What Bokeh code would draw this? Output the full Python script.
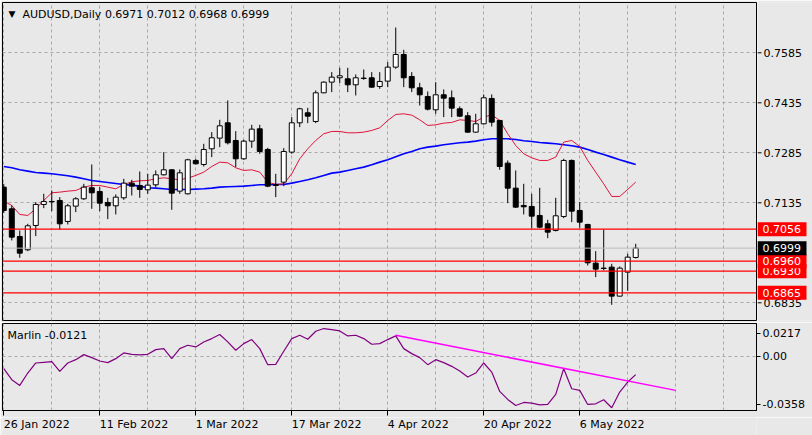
from bokeh.plotting import figure
from bokeh.layouts import column, row
from bokeh.models import ColumnDataSource, FixedTicker, Label, Grid, Range1d, Span
from bokeh.core.properties import value
from bokeh.embed import file_html
from bokeh.resources import INLINE

# ---------------- data ----------------
opens = [0.7182, 0.7117, 0.7034, 0.6994, 0.7067, 0.7130, 0.7138, 0.7142, 0.7079, 0.7125,
         0.7147, 0.7180, 0.7169, 0.7136, 0.7126, 0.7150, 0.7194, 0.7187, 0.7174, 0.7189,
         0.7219, 0.7234, 0.7170, 0.7162, 0.7262, 0.7250, 0.7297, 0.7329, 0.7375, 0.7322,
         0.7267, 0.7320, 0.7357, 0.7295, 0.7190, 0.7197, 0.7287, 0.7375, 0.7405, 0.7379,
         0.7465, 0.7497, 0.7510, 0.7507, 0.7489, 0.7508, 0.7510, 0.7484, 0.7500, 0.7542,
         0.7580, 0.7514, 0.7480, 0.7454, 0.7414, 0.7459, 0.7450, 0.7417, 0.7396, 0.7347,
         0.7372, 0.7448, 0.7382, 0.7254, 0.7179, 0.7127, 0.7124, 0.7097, 0.7072, 0.7052,
         0.7094, 0.7262, 0.7112, 0.7070, 0.6954, 0.6939, 0.6942, 0.6855, 0.6927, 0.6971]
highs = [0.7192, 0.7127, 0.7052, 0.7072, 0.7137, 0.7162, 0.7172, 0.7152, 0.7132, 0.7152,
         0.7192, 0.7250, 0.7182, 0.7150, 0.7160, 0.7207, 0.7204, 0.7229, 0.7222, 0.7232,
         0.7287, 0.7236, 0.7235, 0.7267, 0.7267, 0.7312, 0.7347, 0.7384, 0.7442, 0.7350,
         0.7324, 0.7369, 0.7369, 0.7300, 0.7222, 0.7299, 0.7392, 0.7420, 0.7420, 0.7472,
         0.7499, 0.7527, 0.7540, 0.7540, 0.7520, 0.7535, 0.7527, 0.7527, 0.7557, 0.7661,
         0.7594, 0.7527, 0.7495, 0.7469, 0.7497, 0.7475, 0.7472, 0.7424, 0.7407, 0.7402,
         0.7460, 0.7460, 0.7384, 0.7262, 0.7232, 0.7192, 0.7162, 0.7180, 0.7084, 0.7150,
         0.7267, 0.7265, 0.7137, 0.7072, 0.6990, 0.7055, 0.6952, 0.6944, 0.6982, 0.7012]
lows = [0.7104, 0.7022, 0.6970, 0.6990, 0.7035, 0.7119, 0.7110, 0.7054, 0.7070, 0.7107,
        0.7144, 0.7117, 0.7110, 0.7086, 0.7100, 0.7144, 0.7157, 0.7150, 0.7162, 0.7182,
        0.7217, 0.7114, 0.7162, 0.7160, 0.7250, 0.7244, 0.7272, 0.7302, 0.7310, 0.7242,
        0.7264, 0.7300, 0.7282, 0.7182, 0.7152, 0.7185, 0.7282, 0.7362, 0.7374, 0.7374,
        0.7464, 0.7467, 0.7494, 0.7467, 0.7457, 0.7504, 0.7480, 0.7477, 0.7482, 0.7537,
        0.7482, 0.7467, 0.7427, 0.7412, 0.7402, 0.7392, 0.7392, 0.7392, 0.7345, 0.7345,
        0.7370, 0.7364, 0.7234, 0.7134, 0.7120, 0.7100, 0.7059, 0.7059, 0.7029, 0.7049,
        0.7089, 0.7077, 0.7060, 0.6947, 0.6912, 0.6932, 0.6829, 0.6854, 0.6871, 0.6968]
closes = [0.7112, 0.7032, 0.6984, 0.7066, 0.7130, 0.7139, 0.7139, 0.7072, 0.7126, 0.7147,
          0.7182, 0.7165, 0.7134, 0.7126, 0.7152, 0.7194, 0.7185, 0.7175, 0.7188, 0.7219,
          0.7234, 0.7164, 0.7225, 0.7264, 0.7252, 0.7295, 0.7330, 0.7366, 0.7315, 0.7267,
          0.7320, 0.7356, 0.7289, 0.7185, 0.7187, 0.7289, 0.7375, 0.7417, 0.7395, 0.7465,
          0.7497, 0.7512, 0.7516, 0.7489, 0.7510, 0.7509, 0.7482, 0.7499, 0.7542, 0.7580,
          0.7510, 0.7480, 0.7459, 0.7416, 0.7459, 0.7449, 0.7419, 0.7395, 0.7347, 0.7372,
          0.7450, 0.7377, 0.7244, 0.7179, 0.7122, 0.7123, 0.7095, 0.7062, 0.7047, 0.7096,
          0.7262, 0.7110, 0.7077, 0.6955, 0.6936, 0.6938, 0.6855, 0.6939, 0.6972, 0.6999]
ma_red = [0.7140, 0.7127, 0.7100, 0.7097, 0.7117, 0.7142, 0.7165, 0.7167, 0.7170, 0.7172,
          0.7182, 0.7187, 0.7187, 0.7182, 0.7177, 0.7190, 0.7198, 0.7201, 0.7202, 0.7207,
          0.7210, 0.7207, 0.7204, 0.7209, 0.7217, 0.7227, 0.7244, 0.7257, 0.7255, 0.7240,
          0.7232, 0.7234, 0.7227, 0.7197, 0.7190, 0.7192, 0.7222, 0.7267, 0.7297, 0.7322,
          0.7342, 0.7349, 0.7349, 0.7345, 0.7345, 0.7347, 0.7352, 0.7360, 0.7382, 0.7400,
          0.7402, 0.7398, 0.7384, 0.7367, 0.7369, 0.7374, 0.7376, 0.7384, 0.7382, 0.7379,
          0.7392, 0.7399, 0.7382, 0.7342, 0.7307, 0.7282, 0.7270, 0.7262, 0.7262, 0.7272,
          0.7317, 0.7322, 0.7304, 0.7262, 0.7227, 0.7192, 0.7154, 0.7154, 0.7175, 0.7197]
ma_blue = [0.7244, 0.7240, 0.7234, 0.7230, 0.7226, 0.7224, 0.7222, 0.7219, 0.7216, 0.7212,
           0.7207, 0.7202, 0.7199, 0.7196, 0.7193, 0.7190, 0.7188, 0.7185, 0.7180, 0.7179,
           0.7177, 0.7175, 0.7175, 0.7175, 0.7176, 0.7177, 0.7179, 0.7182, 0.7183, 0.7184,
           0.7185, 0.7187, 0.7189, 0.7189, 0.7190, 0.7190, 0.7194, 0.7199, 0.7204, 0.7210,
           0.7217, 0.7224, 0.7227, 0.7232, 0.7237, 0.7242, 0.7249, 0.7257, 0.7264, 0.7273,
           0.7282, 0.7289, 0.7297, 0.7302, 0.7305, 0.7309, 0.7312, 0.7315, 0.7317, 0.7320,
           0.7324, 0.7327, 0.7327, 0.7327, 0.7325, 0.7321, 0.7319, 0.7316, 0.7314, 0.7312,
           0.7309, 0.7306, 0.7302, 0.7295, 0.7287, 0.7280, 0.7272, 0.7264, 0.7257, 0.7250]
marlin = [-0.00816, -0.01545, -0.01921, -0.01103, -0.00440, -0.00396, -0.00352, -0.00993, -0.00440, -0.00219,
          0.00113, -0.00086, -0.00307, -0.00418, -0.00153, 0.00223, 0.00135, 0.00090, 0.00135, 0.00444,
          0.00510, -0.00153, 0.00510, 0.00731, 0.00621, 0.00952, 0.01173, 0.01439, 0.00952, 0.00400,
          0.00842, 0.01107, 0.00510, -0.00551, -0.00528, 0.00334, 0.01173, 0.01394, 0.01129, 0.01660,
          0.01836, 0.01770, 0.01682, 0.01350, 0.01394, 0.01173, 0.00798, 0.00842, 0.01107, 0.01350,
          0.00510, 0.00179, -0.00086, -0.00551, -0.00219, -0.00418, -0.00661, -0.00970, -0.01368, -0.01103,
          -0.00440, -0.01037, -0.02319, -0.02849, -0.03247, -0.03048, -0.03092, -0.03203, -0.03180, -0.02517,
          -0.00816, -0.02142, -0.02252, -0.03180, -0.03136, -0.02871, -0.03401, -0.02363, -0.01700, -0.0121]
trend_x = [49, 84]
trend_y = [0.0139, -0.0225]
red_levels = [0.6930, 0.6960, 0.7056, 0.6865]
bid_level = 0.6999
price_ticks = [0.7585, 0.7435, 0.7285, 0.7135, 0.6835]
date_ticks = [0, 12, 24, 36, 48, 60, 72]
date_labels = ["26 Jan 2022", "11 Feb 2022", "1 Mar 2022", "17 Mar 2022",
               "4 Apr 2022", "20 Apr 2022", "6 May 2022"]
grid_ticks = list(range(0, 96, 6))
marlin_ticks = [0.0151, 0.0, -0.0318]
marlin_tick_labels = ["0.0217", "0.00", "-0.0358"]
title_text = "AUDUSD,Daily  0.6971 0.7012 0.6968 0.6999"
ind_text = "Marlin -0.0121"

# ---------------- styling / layout constants ----------------
BG = "#e8e8e8"
FONT = "DejaVu Sans"
FS = "11px"
GRID_COLOR = "#a8a8a8"
RED = "#ff0000"

x0, x1 = -0.16, 94.1
xr = Range1d(x0, x1)
yr_main = Range1d(0.67819, 0.77359)
yr_ind = Range1d(-0.0358, 0.0217)

W = 812
LEFT = 2                 # left border
FRAME_W = 754            # chart frame width
MAIN_W = LEFT + FRAME_W + 1
AXW = W - MAIN_W         # right-hand price scale width
MAIN_H = 322
MAIN_FRAME_H = MAIN_H - 4
IND_H = 95
DATE_H = 435 - MAIN_H - IND_H


def base_style(p):
    p.background_fill_color = BG
    p.border_fill_color = BG
    p.grid.visible = False


def add_grids(p, yticks):
    p.add_layout(Grid(dimension=0, ticker=FixedTicker(ticks=grid_ticks),
                      grid_line_color=GRID_COLOR, grid_line_dash="3 3", grid_line_width=1))
    p.add_layout(Grid(dimension=1, ticker=FixedTicker(ticks=yticks),
                      grid_line_color=GRID_COLOR, grid_line_dash="3 3", grid_line_width=1))


# ---------------- main price panel ----------------
p = figure(width=MAIN_W, height=MAIN_H, x_range=xr, y_range=yr_main,
           output_backend="svg", toolbar_location=None,
           x_axis_location=None, y_axis_location=None,
           min_border_left=LEFT, min_border_right=1, min_border_top=2, min_border_bottom=2)
base_style(p)
p.outline_line_color = "black"
p.outline_line_width = 1
add_grids(p, price_ticks)

idx = list(range(len(opens)))
src = ColumnDataSource(dict(
    x=idx,
    high=highs,
    low=lows,
    top=[max(o, c) for o, c in zip(opens, closes)],
    bottom=[min(o, c) for o, c in zip(opens, closes)],
    fill=["white" if c >= o else "black" for o, c in zip(opens, closes)],
))
p.line(idx, ma_blue, line_color="#0000ff", line_width=1.6)
p.line(idx, ma_red, line_color="#dc143c", line_width=1)
p.segment(x0="x", y0="low", x1="x", y1="high", source=src, line_color="black", line_width=1)
p.vbar(x="x", width=0.62, top="top", bottom="bottom", fill_color="fill",
       line_color="black", line_width=1, source=src)
p.add_layout(Span(location=bid_level, dimension="width", line_color="#bcbcbc", line_width=1))
for lv in red_levels:
    p.add_layout(Span(location=lv, dimension="width", line_color=RED, line_width=1.2))

p.add_layout(Label(x=x0, y=yr_main.end, x_offset=6, y_offset=-6, text="\u25BC",
                   text_font=FONT, text_font_size="9px", text_color="black",
                   text_baseline="top", text_align="left"))
p.add_layout(Label(x=x0, y=yr_main.end, x_offset=20, y_offset=-5, text=title_text,
                   text_font=FONT, text_font_size=FS, text_color="black",
                   text_baseline="top", text_align="left"))

# ---------------- price scale (right of main panel) ----------------
pa = figure(width=AXW, height=MAIN_H, x_range=Range1d(0, AXW), y_range=yr_main,
            output_backend="svg", toolbar_location=None,
            x_axis_location=None, y_axis_location=None,
            min_border_left=0, min_border_right=0, min_border_top=2, min_border_bottom=2)
base_style(pa)
pa.outline_line_color = None
n = len(price_ticks)
pa.segment(x0=[0] * n, x1=[4] * n, y0=price_ticks, y1=price_ticks, line_color="black", line_width=1)
pa.text(x=[6] * n, y=price_ticks, text=["%.4f" % t for t in price_ticks],
        text_font=value(FONT), text_font_size=value(FS), text_color="black",
        text_baseline="middle", text_align="left")

dpp = (yr_main.end - yr_main.start) / MAIN_FRAME_H   # price units per pixel
box_half = 7 * dpp
box_levels = [0.6930, 0.6960, 0.7056, 0.6865, bid_level]
box_colors = [RED, RED, RED, RED, "black"]
for lv, col in zip(box_levels, box_colors):
    pa.quad(left=[0], right=[49], bottom=[lv - box_half], top=[lv + box_half],
            fill_color=col, line_color=None)
    pa.text(x=[5], y=[lv], text=["%.4f" % lv], text_font=value(FONT), text_font_size=value(FS),
            text_color="white", text_baseline="middle", text_align="left")

# ---------------- indicator panel ----------------
p2 = figure(width=W, height=IND_H, x_range=xr, y_range=yr_ind,
            output_backend="svg", toolbar_location=None,
            x_axis_location="below", y_axis_location="right",
            min_border_left=LEFT, min_border_right=AXW + 1, min_border_top=1, min_border_bottom=7)
base_style(p2)
p2.outline_line_color = "black"
add_grids(p2, [0.0])
ya = p2.yaxis[0]
ya.ticker = FixedTicker(ticks=marlin_ticks)
ya.major_label_overrides = {t: s for t, s in zip(marlin_ticks, marlin_tick_labels)}
ya.axis_line_color = "black"
ya.major_tick_line_color = "black"
ya.major_tick_out = 4
ya.major_tick_in = 0
ya.minor_tick_line_color = None
ya.major_label_standoff = 2
ya.major_label_text_font = FONT
ya.major_label_text_font_size = FS
ya.major_label_text_color = "black"
xa = p2.xaxis[0]
xa.ticker = FixedTicker(ticks=date_ticks)
xa.major_label_overrides = {t: "" for t in date_ticks}
xa.major_label_text_font_size = "1px"
xa.axis_line_color = "black"
xa.major_tick_line_color = "black"
xa.major_tick_out = 5
xa.major_tick_in = 0
xa.minor_tick_out = 0
xa.minor_tick_line_color = None
xa.major_label_standoff = 0

p2.line(idx, marlin, line_color="#800080", line_width=1.2)
p2.line(trend_x, trend_y, line_color="#ff00ff", line_width=1.5)
p2.add_layout(Label(x=x0, y=yr_ind.end, x_offset=5, y_offset=-5, text=ind_text,
                    text_font=FONT, text_font_size=FS, text_color="black",
                    text_baseline="top", text_align="left"))

# ---------------- date labels row ----------------
p3 = figure(width=W, height=DATE_H, x_range=xr, y_range=Range1d(0, DATE_H),
            output_backend="svg", toolbar_location=None,
            x_axis_location=None, y_axis_location=None,
            min_border_left=LEFT, min_border_right=AXW + 1, min_border_top=0, min_border_bottom=0)
base_style(p3)
p3.outline_line_color = None
p3.text(x=date_ticks, y=[DATE_H] * len(date_ticks), text=date_labels,
        text_font=value(FONT), text_font_size=value(FS), text_color="black",
        text_baseline="top", text_align="left")

layout = column(row(p, pa, spacing=0), p2, p3, spacing=0)
open("out.html", "w").write(file_html(layout, INLINE))
